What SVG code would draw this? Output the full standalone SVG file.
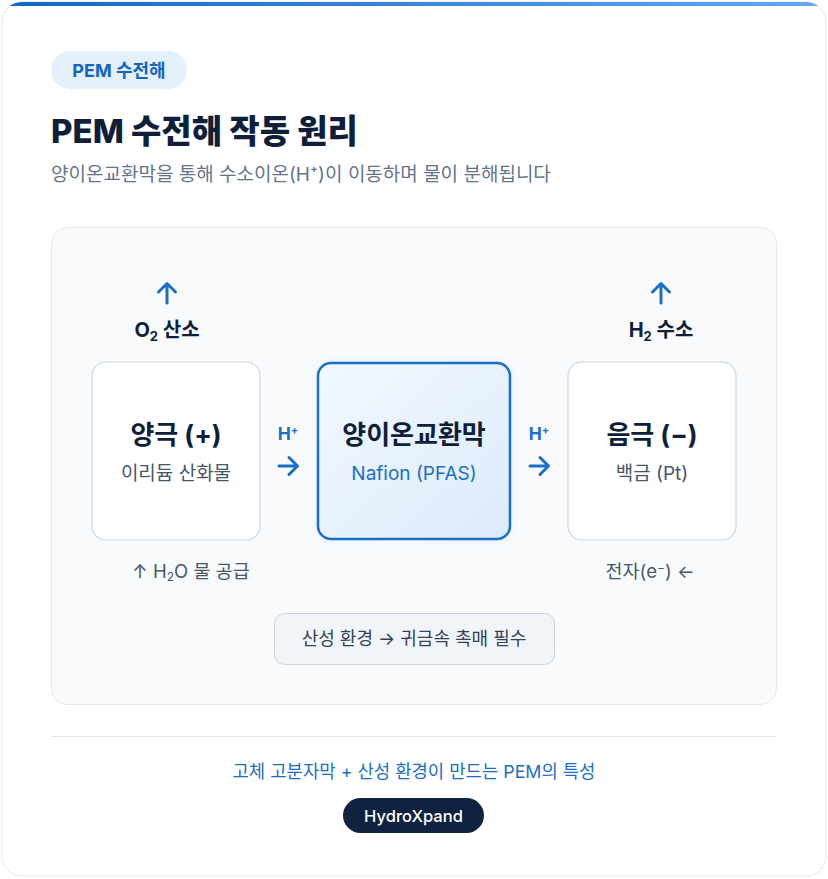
<svg xmlns="http://www.w3.org/2000/svg" width="828" height="879" viewBox="0 0 828 879">
<defs>
<linearGradient id="bar" x1="0" y1="0" x2="1" y2="0"><stop offset="0" stop-color="#1565c0"/><stop offset="1" stop-color="#64a8f0"/></linearGradient>
<linearGradient id="mem" x1="0" y1="0" x2="1" y2="1"><stop offset="0" stop-color="#f2f8fe"/><stop offset="1" stop-color="#dcebfb"/></linearGradient>
<clipPath id="cardclip"><rect x="2" y="2" width="824" height="874" rx="20"/></clipPath>
<filter id="glow" x="-20%" y="-20%" width="140%" height="140%"><feGaussianBlur stdDeviation="4"/></filter>
</defs>
<style>
text{font-family:Inter,"Noto Sans CJK KR","Noto Sans",sans-serif}
.box{fill:#fff;stroke:#cbd5e1;stroke-width:1.2}
.ttl{font-size:26px;font-weight:700;fill:#0f1f3a;text-anchor:middle}
.sub{font-size:19px;fill:#475569;text-anchor:middle}
.gas{font-size:20px;font-weight:700;fill:#0f1f3a;text-anchor:middle}
.hp{font-size:17.5px;font-weight:700;fill:#1a6fc4;text-anchor:middle}
.arr{fill:none;stroke:#1a6fc4;stroke-width:3;stroke-linecap:round;stroke-linejoin:round}
.note{font-size:18.5px;fill:#475569;text-anchor:middle}
</style>
<rect x="2" y="2" width="824" height="874" rx="20" fill="#fff" stroke="#e2e8f0"/>
<rect x="0" y="0" width="828" height="6" fill="url(#bar)" clip-path="url(#cardclip)"/>

<g id="badge">
<rect x="51" y="51" width="136" height="38" rx="19" fill="#e4f0fc"/>
<text x="119" y="76.5" font-size="18" font-weight="700" fill="#1565c0" text-anchor="middle">PEM 수전해</text>
</g>
<text x="51" y="143" font-size="33" font-weight="800" fill="#0f1f3a">PEM 수전해 작동 원리</text>
<text x="51" y="181" font-size="19" fill="#64748b">양이온교환막을 통해 수소이온(H⁺)이 이동하며 물이 분해됩니다</text>

<rect x="51.5" y="227.5" width="725" height="477" rx="16" fill="#f8fafc" stroke="#e2e8f0"/>

<g id="anode">
<rect class="box" x="92" y="362" width="168" height="178" rx="14"/>
<text class="ttl" x="176" y="444">양극 (+)</text>
<text class="sub" x="176" y="480">이리듐 산화물</text>
</g>
<g id="membrane">
<rect x="317" y="362" width="194" height="178" rx="14" fill="#dbeafe" opacity="0.6" filter="url(#glow)"/>
<rect x="318" y="363" width="192" height="176" rx="13" fill="url(#mem)" stroke="#1a6fc4" stroke-width="2.5"/>
<text class="ttl" x="414" y="444">양이온교환막</text>
<text class="sub" x="414" y="480" style="fill:#1a6fc4">Nafion (PFAS)</text>
</g>
<g id="cathode">
<rect class="box" x="568" y="362" width="168" height="178" rx="14"/>
<text class="ttl" x="652" y="444">음극 (−)</text>
<text class="sub" x="652" y="480">백금 (Pt)</text>
</g>
<g id="o2">
<text class="gas" x="167" y="337">O<tspan font-size="13" dy="4">2</tspan><tspan dy="-4"> 산소</tspan></text>
</g>
<g id="h2">
<text class="gas" x="661" y="337">H<tspan font-size="13" dy="4">2</tspan><tspan dy="-4"> 수소</tspan></text>
</g>
<g id="connectors">
<path class="arr" d="M167 303V284M158.5 292L167 283.5L175.5 292"/>
<path class="arr" d="M661 303V284M652.5 292L661 283.5L669.5 292"/>
<path class="arr" d="M279 466H297M289 457.5L297.5 466L289 474.5"/>
<path class="arr" d="M530 466H548M540 457.5L548.5 466L540 474.5"/>
<text class="hp" x="288" y="440">H<tspan font-size="11" dy="-6">+</tspan></text>
<text class="hp" x="539" y="440">H<tspan font-size="11" dy="-6">+</tspan></text>
</g>
<text class="note" x="191" y="578">↑ H<tspan font-size="12" dy="3">2</tspan><tspan dy="-3">O 물 공급</tspan></text>
<text class="note" x="650" y="578">전자(e<tspan font-size="12" dy="-6">−</tspan><tspan dy="6">) ←</tspan></text>

<g id="acid">
<rect x="274.5" y="613.5" width="280" height="51" rx="10" fill="#f1f5f9" stroke="#cbd5e1"/>
<text x="414" y="645" font-size="18" fill="#334155" text-anchor="middle">산성 환경 → 귀금속 촉매 필수</text>
</g>

<line x1="51" y1="736.5" x2="776" y2="736.5" stroke="#e2e8f0"/>
<text x="414" y="778" font-size="17.8" fill="#1a6fc4" text-anchor="middle">고체 고분자막 + 산성 환경이 만드는 PEM의 특성</text>
<g id="brand">
<rect x="343" y="798" width="141" height="35" rx="17.5" fill="#0f2340"/>
<text x="413.5" y="821.5" font-size="16.5" font-weight="500" fill="#fff" text-anchor="middle">HydroXpand</text>
</g>
</svg>
